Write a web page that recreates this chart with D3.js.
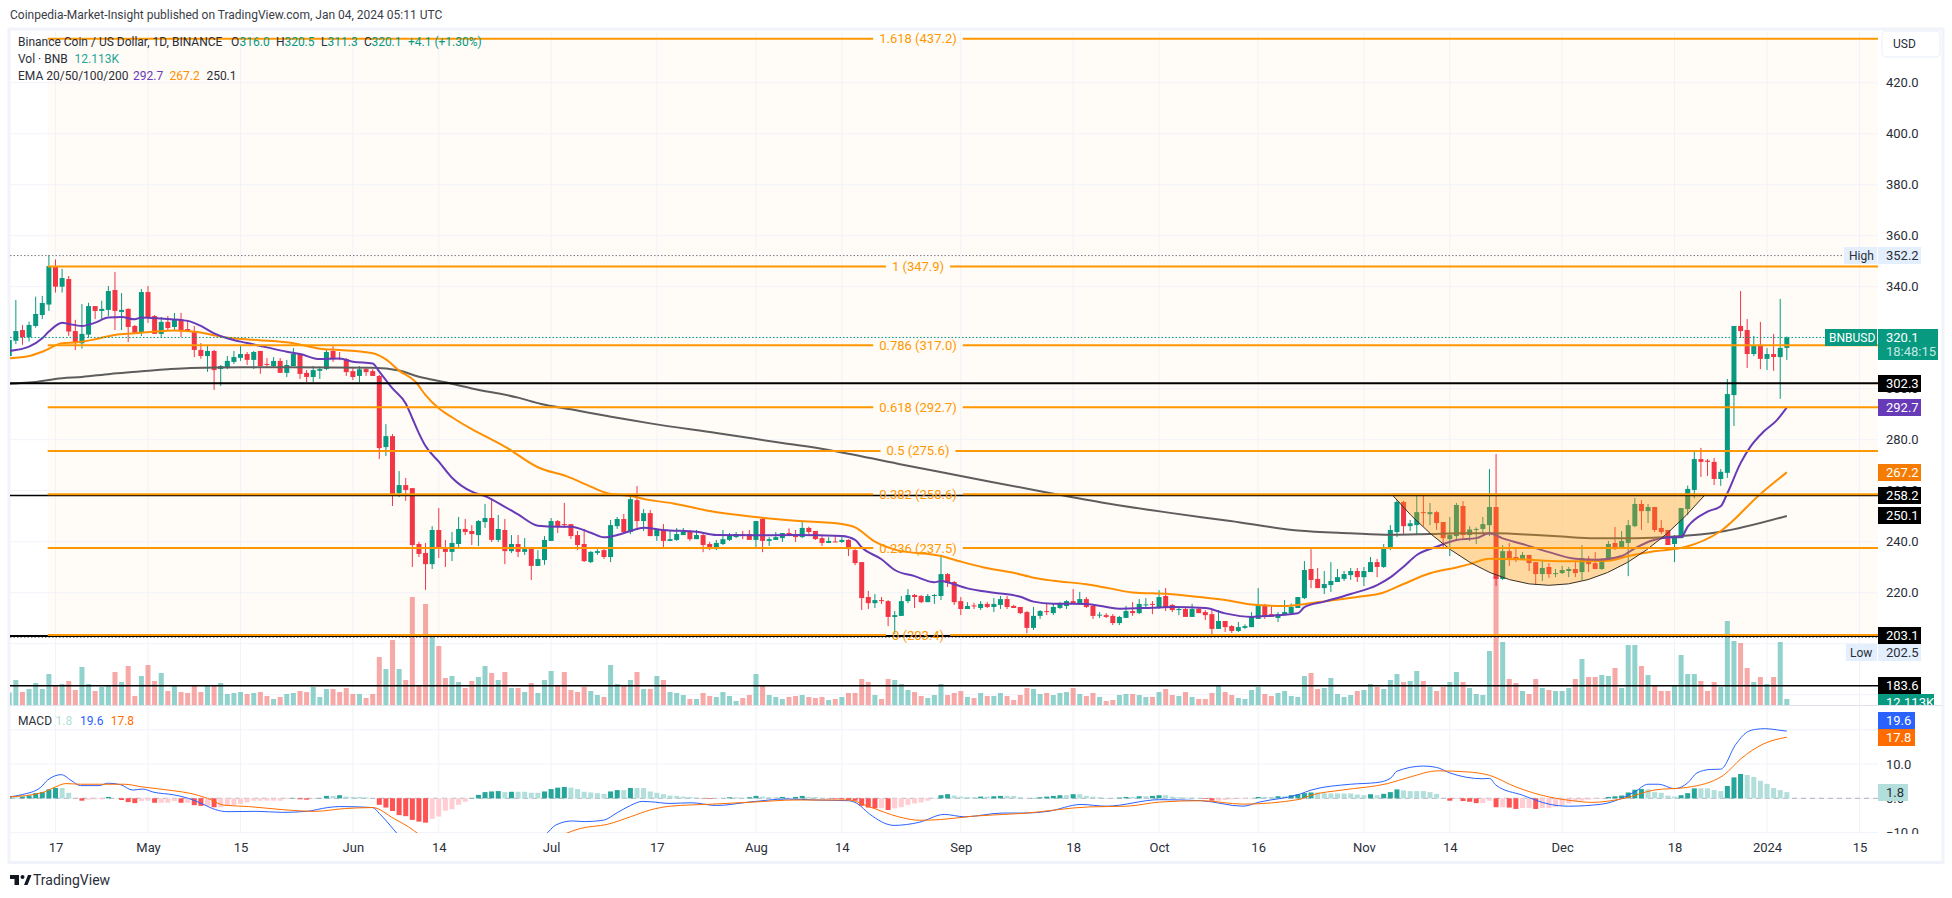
<!DOCTYPE html>
<html>
<head>
<meta charset="utf-8">
<script src="https://cdn.jsdelivr.net/npm/d3@7"></script>
<style>
    html, body { margin: 0; padding: 0; background: #fff; }
    svg { display: block; }
    text { font-family: "Roboto", sans-serif; }
</style>
</head>
<body>
<div id="chart"></div>
<script>
// Daily candles, day 0 = 17 Apr 2023, first candle is day -7
const firstDay = -7;
const open = [
    312.8,318.8,323.0,320.2,324.6,328.9,333.0,
    348.1,340.0,343.0,322.6,317.8,321.2,332.4,330.5,330.9,338.7,
    330.1,331.3,324.6,321.9,337.9,328.5,321.5,326.2,324.2,327.2,
    323.4,322.2,315.2,312.8,314.8,307.7,308.1,310.5,312.1,313.6,
    311.3,314.8,309.7,308.9,310.9,306.2,308.9,313.6,306.2,304.6,
    307.0,307.7,314.8,312.0,311.6,306.9,305.0,307.7,306.9,305.0,
    277.1,281.4,259.1,262.2,261.0,239.1,235.6,231.2,244.6,237.5,
    236.0,239.1,245.0,244.2,242.6,247.7,249.3,240.7,244.6,236.3,
    239.1,236.0,237.5,230.5,232.8,240.3,248.1,246.9,246.9,242.6,
    239.1,232.0,235.6,236.7,234.0,246.1,248.9,243.8,256.3,248.1,
    251.2,242.2,244.6,240.3,240.7,242.6,244.2,241.0,242.6,239.1,
    237.9,239.1,240.7,241.8,243.0,243.0,240.7,248.9,240.3,240.7,
    241.4,243.4,243.0,241.8,245.4,244.2,241.4,239.5,240.1,239.9,
    240.7,236.7,232.0,218.3,215.9,217.1,216.7,210.5,210.9,216.7,
    219.1,218.7,216.3,218.7,218.7,227.3,224.2,216.7,213.6,215.0,
    214.0,215.6,214.4,215.2,217.5,214.8,214.4,212.4,206.2,210.9,
    212.8,212.0,214.0,214.8,216.7,215.9,217.5,214.8,211.1,211.2,
    210.9,208.1,210.1,212.8,212.0,215.2,215.6,214.0,218.7,215.2,
    213.2,213.6,210.5,213.6,212.4,211.6,205.8,208.9,206.9,205.0,
    206.2,206.5,209.7,215.2,211.6,210.1,211.2,212.0,214.0,217.9,
    229.3,225.4,221.8,223.0,224.2,225.4,226.9,228.5,226.1,228.1,
    232.0,230.1,237.8,243.8,255.6,246.1,246.5,251.6,250.8,251.6,
    247.7,241.0,242.2,254.0,242.6,244.6,245.0,246.5,253.6,225.4,
    236.3,234.0,232.8,234.8,232.0,227.3,230.1,227.3,227.7,228.5,
    229.3,228.1,233.3,231.6,229.3,232.8,239.5,237.5,239.5,246.1,
    254.8,252.0,253.6,245.4,244.6,239.1,241.4,252.8,260.3,272.4,
    271.8,271.3,264.6,267.0,297.5,324.6,323.0,313.6,316.8,311.7,
    313.6,312.4,316.0
];
const high = [
    320.5,334.8,325.0,326.3,336.1,336.4,352.4,
    350.7,347.0,344.2,327.0,333.2,333.7,332.4,334.5,340.3,345.8,
    337.5,331.5,325.0,339.1,340.3,328.9,328.1,328.5,329.7,329.7,
    327.0,324.6,317.9,316.8,315.2,309.3,312.8,314.8,316.8,314.4,
    314.8,314.8,312.0,312.4,312.0,311.3,316.0,313.6,307.3,308.9,
    308.7,315.2,316.7,314.4,312.0,308.1,308.9,308.5,307.7,305.4,
    286.1,282.2,267.7,265.0,261.0,239.9,239.5,246.1,253.2,240.7,
    243.8,249.7,248.9,246.5,248.5,254.8,257.1,250.5,248.9,242.6,
    242.6,241.4,237.5,236.7,242.2,249.3,248.5,255.2,246.9,244.2,
    245.0,236.3,237.1,237.1,248.5,249.7,250.9,258.0,261.8,252.8,
    252.4,245.0,246.9,244.2,245.4,245.4,244.6,244.6,243.4,239.9,
    240.7,244.6,243.4,243.8,244.2,244.6,248.1,249.3,241.8,243.8,
    243.4,245.2,244.6,248.2,245.9,244.2,242.2,241.8,242.2,242.6,
    241.0,237.1,232.0,220.7,219.5,218.3,217.1,212.8,218.7,221.4,
    219.5,219.1,219.5,219.5,234.9,227.7,224.6,218.3,216.3,216.0,
    216.7,216.3,217.9,218.7,218.7,215.2,214.4,212.8,214.4,213.2,
    215.6,215.6,216.3,217.1,221.4,220.3,218.3,215.6,212.4,212.0,
    211.6,210.9,214.8,216.3,217.5,217.9,216.7,221.0,221.8,215.6,
    214.4,214.4,215.6,214.4,213.2,213.2,213.2,208.9,207.3,208.5,
    207.6,212.4,221.8,215.6,214.8,212.4,217.1,215.8,218.3,232.4,
    237.1,229.7,228.5,232.0,229.3,228.5,229.7,229.7,230.1,234.0,
    233.2,239.1,246.5,256.3,256.0,248.5,258.7,257.9,255.2,252.0,
    247.7,249.7,255.2,255.9,246.1,245.6,249.7,268.5,274.4,238.7,
    239.5,237.1,235.9,234.8,232.0,232.4,231.6,229.3,230.5,230.1,
    232.0,238.7,234.4,235.9,233.6,240.3,245.8,244.2,248.5,257.1,
    256.3,254.8,253.6,248.5,244.6,242.6,253.2,262.0,275.6,276.8,
    272.4,272.8,268.5,303.8,324.6,338.3,327.3,320.7,326.2,316.0,
    321.5,335.2,320.5
];
const low = [
    310.0,317.5,317.2,318.5,323.9,327.3,330.5,
    337.7,337.7,320.7,315.2,315.7,320.0,327.3,327.3,328.5,323.0,
    323.0,318.3,321.5,320.7,325.8,321.5,320.3,323.0,323.0,320.3,
    322.4,312.4,311.7,306.6,299.5,301.1,307.7,309.7,310.9,309.3,
    307.7,305.8,308.1,308.5,306.2,304.6,308.9,303.8,302.6,302.6,
    303.8,307.3,310.5,311.2,305.0,303.4,302.6,305.0,305.0,272.4,
    273.6,254.0,257.5,256.0,230.1,234.0,221.1,229.3,233.6,230.1,
    232.4,237.9,242.6,238.7,238.3,245.4,239.9,239.9,231.2,235.6,
    234.0,234.8,225.0,230.5,230.9,240.3,243.4,245.4,241.1,236.7,
    232.0,231.6,234.8,233.2,232.0,245.0,243.0,243.0,244.6,244.2,
    242.2,240.3,237.9,240.3,240.3,242.6,240.3,241.0,235.9,236.7,
    236.7,238.7,240.3,241.4,241.0,240.7,237.9,235.9,238.3,240.7,
    239.9,242.2,239.9,241.4,243.0,240.7,238.3,239.5,239.8,239.5,
    234.4,230.8,213.2,213.6,214.0,215.6,206.9,203.8,210.9,215.9,
    214.0,215.9,216.3,215.6,217.1,222.2,215.2,211.2,213.6,213.6,
    213.2,214.0,212.4,213.6,213.6,214.0,211.6,204.1,205.4,209.7,
    211.2,211.2,213.6,213.6,215.6,215.6,214.0,209.7,210.1,210.1,
    207.3,207.3,210.1,210.9,211.6,214.4,211.6,213.6,212.8,212.4,
    211.2,210.5,210.5,212.0,209.3,202.6,205.8,204.6,204.2,204.6,
    205.8,206.5,209.7,209.7,210.5,208.5,211.2,211.6,214.0,217.5,
    221.8,221.8,219.5,220.3,224.2,224.6,225.0,224.2,222.6,228.1,
    226.1,229.7,236.7,241.8,242.6,244.2,242.6,246.1,246.5,244.6,
    237.5,234.4,240.7,240.7,240.3,239.1,243.0,242.2,222.6,225.0,
    230.5,232.0,232.8,228.5,223.0,224.6,225.8,226.1,227.3,226.1,
    226.1,225.0,228.1,229.3,228.9,232.4,236.7,237.1,226.5,245.7,
    244.6,247.3,243.8,243.0,238.7,232.0,241.4,250.4,257.0,265.4,
    265.8,262.2,261.9,265.0,285.4,319.9,308.1,312.8,307.7,307.3,
    307.0,296.0,311.3
];
const close = [
    319.1,322.6,320.2,325.0,329.3,333.6,348.1,
    340.0,343.4,322.4,317.9,321.5,332.4,330.5,331.3,338.3,330.5,
    330.9,324.2,321.9,337.9,328.1,321.5,326.2,323.8,327.3,323.0,
    322.6,315.2,312.8,314.8,307.3,308.9,310.9,312.4,313.6,311.3,
    314.4,308.9,309.3,310.9,306.2,309.3,313.6,305.8,304.6,307.3,
    307.7,314.4,311.6,311.6,306.5,304.6,307.6,306.5,305.0,276.7,
    281.4,258.7,262.2,260.3,238.7,235.2,231.2,244.6,237.5,236.0,
    239.5,245.0,243.8,243.0,248.1,249.3,240.7,245.0,236.3,239.1,
    236.0,237.1,230.5,233.2,240.7,248.1,246.1,246.5,242.2,238.7,
    232.4,236.0,236.3,234.0,246.5,248.9,243.8,256.7,248.1,251.2,
    242.2,244.6,240.3,241.0,243.0,243.8,241.0,242.6,238.7,237.6,
    239.5,241.0,242.6,243.0,242.6,240.7,248.1,240.3,241.0,241.8,
    243.4,242.6,241.8,245.4,243.8,241.0,239.5,240.3,239.9,240.7,
    237.1,231.6,217.9,215.9,217.1,216.7,210.5,211.2,216.7,219.1,
    218.3,216.3,218.7,219.1,227.3,223.8,216.3,213.6,214.8,214.8,
    215.6,214.4,215.6,217.5,214.4,214.0,212.0,206.2,210.9,212.8,
    212.4,214.4,215.6,216.7,215.9,217.5,214.4,210.9,211.4,210.5,
    208.1,210.5,212.8,212.0,215.6,215.4,215.2,218.3,214.0,213.2,
    213.6,210.5,213.6,212.0,211.2,205.8,208.9,206.5,205.0,206.5,
    206.9,210.5,215.2,210.9,210.5,211.6,212.4,214.4,218.3,228.9,
    225.0,221.8,223.4,224.6,226.1,227.3,228.5,226.1,228.5,232.0,
    230.1,237.4,244.6,255.6,246.1,247.2,251.6,251.2,251.6,247.3,
    241.4,242.6,254.4,242.6,244.8,245.0,246.9,253.6,225.4,236.3,
    233.6,232.8,234.8,231.6,227.3,229.7,227.3,227.7,228.9,229.3,
    227.7,233.6,231.2,229.3,233.2,239.1,237.1,240.3,246.5,254.8,
    252.0,253.6,244.6,243.8,238.7,241.8,253.2,260.7,272.4,271.3,
    271.3,264.6,267.4,297.9,324.6,322.6,313.6,316.8,311.7,313.6,
    312.4,316.0,320.1
];
// Volume in thousands of BNB
const volume = [
    25,50,26,32,44,32,62,
    40,42,48,30,76,42,28,36,39,66,
    46,78,18,58,80,48,64,28,39,26,
    24,39,26,39,39,44,22,24,26,22,
    24,26,18,12,16,22,24,28,26,36,
    16,32,32,26,34,22,22,14,22,96,
    72,130,72,50,216,40,202,140,118,54,
    58,46,34,48,56,78,64,50,66,34,
    34,26,44,24,50,68,40,66,30,26,
    36,28,20,16,80,42,39,50,66,32,
    32,58,50,26,24,20,12,12,24,18,
    16,26,18,8,14,20,62,38,20,16,
    12,16,18,20,16,14,16,10,12,16,
    24,24,52,46,20,12,52,50,42,30,
    26,18,14,20,42,20,24,28,16,14,
    24,18,18,24,18,10,20,34,32,22,
    24,20,24,26,34,22,18,24,16,8,
    10,20,22,22,20,16,16,26,32,20,
    18,26,16,12,12,24,38,26,20,14,
    12,30,36,22,18,24,28,18,16,58,
    64,32,34,54,22,16,20,28,30,42,
    36,32,50,62,46,48,68,48,36,28,
    36,46,66,46,34,22,20,108,257,126,
    52,44,28,22,52,34,30,28,28,34,
    52,92,56,56,60,58,74,34,120,120,
    78,60,39,28,28,38,100,62,62,48,
    28,46,36,168,128,124,74,46,56,42,
    56,126,12.1
];
const macdHist = [
    .3,.3,.5,.8,1.5,1.8,2.6,
    3.0,3.0,1.6,0,-.7,-.4,-.3,-.3,.4,0,
    -.5,-1.1,-1.4,-.8,-.7,-1.3,-1.3,-1.3,-.8,-1.3,
    -1.3,-2.0,-2.2,-2.2,-2.6,-2.6,-2.0,-2.0,-1.6,-1.2,
    -.7,-.7,-.7,-.7,-.7,-.2,.1,-.3,-.4,-.2,
    .1,.7,.7,.9,.5,.4,.4,.3,0,-1.9,
    -2.7,-3.7,-4.9,-5.2,-6.3,-6.8,-7.1,-6.0,-5.3,-3.6,
    -3.2,-1.9,-1.0,.1,1.0,1.8,2.0,2.1,1.8,1.9,
    1.9,1.9,1.6,1.6,2.0,2.7,3.1,3.3,3.1,2.7,
    1.9,1.7,1.5,1.3,2.0,2.4,2.4,3.0,3.0,3.0,
    2.0,1.6,1.2,.8,.7,.5,.4,.2,-.1,-.2,
    -.1,0,.3,.3,.1,.3,.7,.5,.3,.3,
    .4,.1,.4,.7,.4,.4,.1,-.1,-.2,-.3,
    -.5,-.7,-2.2,-2.7,-2.9,-2.9,-3.4,-2.9,-2.6,-1.9,
    -1.5,-1.2,-.7,-.1,.9,1.2,.8,.5,.4,.3,
    .5,.5,.6,.7,.7,.7,.3,0,.1,.3,
    .5,.7,.9,.9,1.2,1.2,.7,.5,.3,.1,
    .1,.2,.4,.4,.6,.6,.7,.9,.9,.5,
    .3,.2,.2,0,-.2,-.7,-.7,-.5,-.3,-.2,
    -.2,-.1,.4,.4,.4,.6,.6,.9,1.2,1.5,
    1.7,1.7,1.5,1.4,1.4,1.4,1.4,1.1,.9,1.2,
    .9,1.3,1.8,2.6,2.3,2.1,2.1,2.1,1.8,1.3,
    0,-.7,-.2,-.8,-1.0,-1.4,-1.4,-.7,-2.6,-2.6,
    -2.7,-3.1,-2.8,-2.8,-3.1,-2.8,-2.8,-2.5,-2.0,-1.5,
    -.9,-.7,-.4,-.2,-.1,.4,.6,.8,1.7,2.5,
    2.7,2.6,1.8,1.6,.8,.5,.9,1.5,2.9,2.9,
    2.9,2.4,2.1,3.6,6.1,7.1,6.8,6.2,5.1,4.2,
    3.0,2.4,1.8
];

// Line series read at their turning points: [day, value]
const ema20 = [[-7,314.8],[-4,316.5],[-2,319.8],[-1,322.4],[1,325.9],[2,325.4],[4,324.6],[6,325.9],[8,327.9],[10,328.1],[12,327.2],[13,327.9],[16,327.5],[20,326.6],[22,324.6],[24,321.7],[26,319.8],[29,317.9],[32,316.2],[35,314.5],[37,313.6],[40,311.6],[43,311.8],[45,310.6],[48,309.9],[49,306.7],[51,300.1],[53,294.2],[54,288.4],[55,282.5],[56,277.5],[58,271.4],[60,265.1],[63,259.6],[65,257.9],[68,253.7],[70,250.7],[73,246.3],[76,245.9],[78,245.9],[81,243.5],[83,241.7],[85,242.6],[87,244.2],[89,245.5],[92,244.6],[97,243.9],[100,242.6],[106,242.5],[112,242.6],[119,242.2],[121,240.7],[122,237.8],[125,233.1],[127,228.9],[130,226.5],[133,224.1],[134,224.6],[136,223.3],[138,221.7],[142,220.0],[146,218.4],[148,216.5],[151,215.7],[156,215.6],[161,213.7],[166,214.1],[169,214.4],[174,214.0],[177,211.9],[181,210.5],[184,211.0],[188,211.9],[189,214.3],[192,216.5],[196,219.5],[200,223.0],[202,226.0],[204,230.2],[206,234.8],[209,238.0],[212,240.7],[215,241.4],[217,243.3],[219,241.3],[222,239.1],[226,235.9],[230,233.3],[233,232.9],[237,234.4],[239,237.4],[241.5,240.4],[244,241.6],[246,241.8],[247,245.9],[250,251.8],[252,253.9],[253,259.0],[255,270.8],[256.5,277.3],[258.5,283.2],[260.5,287.7],[262,292.7]];
const ema50 = [[-7,311.9],[-4,312.8],[-2,314.5],[1,317.8],[3.3,318.2],[6,319.4],[9,321.1],[12,321.7],[15,322.4],[18,322.8],[21.5,322.2],[25.5,320.2],[30.5,319.1],[36,317.8],[40,315.7],[43,315.2],[48,313.9],[50,311.5],[52,307.1],[54.5,302.7],[56,297.5],[58,292.3],[60,288.8],[63,284.1],[65,281.4],[68,277.3],[73,269.2],[77.5,265.5],[80.5,262.2],[83.5,259.0],[87,257.9],[90,256.3],[93.5,255.0],[99,252.0],[105.5,249.8],[112,248.2],[119,246.9],[121,245.6],[124,240.0],[127.3,236.7],[134,234.4],[137,232.2],[140.5,229.9],[145,227.8],[148,225.9],[151,224.7],[156,223.3],[159.5,221.7],[163,220.1],[168.5,219.5],[173.5,218.2],[177.5,216.9],[181,215.4],[186,214.8],[188.6,215.4],[193,216.9],[197,218.3],[201,220.1],[204,223.4],[208,227.6],[212,229.9],[214,231.2],[217,233.3],[221.5,233.1],[228,232.3],[235,232.5],[238,234.4],[241.5,236.1],[246.5,237.8],[252,244.2],[258,258.7],[262,267.2]];
const ema200 = [[-7,301.9],[-4,302.4],[1,304.1],[4,304.6],[8.3,305.8],[12.3,306.6],[17,307.6],[20.4,308.1],[28.5,308.4],[35,308.4],[48,308.2],[52,307.1],[55,304.7],[59,302.5],[63,300.1],[70,296.5],[73.5,294.0],[78,291.9],[83.5,289.3],[87,287.7],[90,286.4],[100,282.6],[110,278.7],[117,276.0],[127.6,270.5],[137,265.8],[150.2,259.2],[159,255.1],[168.4,251.4],[177.8,248.1],[188,244.4],[196,243.3],[202,242.7],[208,243.0],[213,243.3],[218,243.3],[224,242.6],[228,242.0],[233,241.4],[239,241.4],[245,242.0],[252,243.9],[262,250.1]];
const macdLine = [[-7,.4],[-5,1.1],[-2.3,3.1],[-1.2,5.3],[.9,6.9],[2.3,5.3],[3.8,3.7],[6.6,3.7],[7.9,4.4],[9.8,4.0],[11.7,2.4],[13.2,2.7],[14.8,1.8],[17.9,1.0],[20.1,0],[22.3,-1.7],[24.2,-3.3],[26.1,-3.9],[30.5,-3.8],[34.3,-4.1],[38,-3.8],[41.2,-2.7],[43,-2.4],[48,-2.7],[49,-4.4],[50.6,-7.8],[51.8,-10.5],[54,-14],[57,-20],[60,-22],[65,-21],[70,-15],[74.2,-10.5],[75.7,-7.8],[78.2,-6.6],[80,-6.8],[82.9,-6.4],[85,-4.2],[87,-2.1],[88.8,-.9],[90,-1.0],[93,-1.5],[96.2,-1.3],[100,-2.1],[105,-1.1],[110.7,-.2],[115,-.5],[120,-.7],[121.3,-1.5],[123.2,-4.6],[126.9,-7.9],[130.7,-7.0],[134.5,-4.7],[137.6,-5.4],[143.3,-4.3],[146.4,-4.3],[150.2,-3.8],[155.2,-1.8],[159,-2.3],[167.1,-.4],[173.4,-.7],[179.7,-2.3],[182.2,-1.1],[188.3,1.2],[190,2.4],[196,4.1],[200,4.6],[202,5.8],[203,7.9],[207,9.4],[209,9.0],[211,7.4],[216,5.7],[217,5.8],[218,3.8],[222,.9],[226,-1.7],[229,-2.3],[234,-1.7],[239,1.9],[241,4.1],[242.6,4.1],[245,2.8],[247,4.5],[248.4,7.4],[250.4,8.4],[252,8.5],[254.3,15.8],[255.9,19.2],[257.3,20.1],[258.8,20.3],[260.7,19.9],[262,19.6]];
const macdSignal = [[-7,.4],[-2.1,1.6],[-.25,3.1],[1.6,4.3],[3.8,4.1],[7.3,4.1],[10.4,4.1],[13.2,3.3],[17.9,2.2],[20.5,1.4],[23,0],[25.5,-2.0],[29.2,-2.4],[34.3,-3.3],[39.3,-3.8],[43.7,-3.0],[48,-2.7],[51.2,-5.9],[53.4,-8.3],[55,-10.5],[60,-16],[65,-19],[70,-17],[76.9,-10.5],[79.4,-8.8],[83.5,-7.6],[87,-5.4],[90,-3.4],[93,-2.3],[99.4,-1.7],[105.6,-1.1],[111.9,-.5],[120,-.5],[123.2,-2.5],[127.6,-5.4],[130.7,-6.4],[133.9,-6.2],[138.9,-5.2],[146.4,-4.4],[156.5,-2.5],[162.1,-2.3],[167.1,-1.1],[173.4,-.7],[179.7,-1.7],[188.3,-.3],[190,.9],[194.7,2.4],[201.6,4.3],[204.8,6.1],[209.2,8.0],[213.6,7.7],[217,6.7],[221,3.3],[226,.4],[230,-.8],[232.4,-1.2],[237.4,0],[241.9,2.4],[247,3.2],[252.4,6.7],[255.1,11.6],[258.4,15.8],[262,17.8]];

// Fibonacci retracement and horizontal levels
const fibRatios = ["1.618","1","0.786","0.618","0.5","0.382","0.236","0"];
const fibPrices = [437.2,347.9,317.0,292.7,275.6,258.6,237.5,203.4];
const levelPrices = [302.3,258.2,203.1,183.6];
const levelWidths = [2,1.5,2,1.5];

// Cup drawing: start, control and end of the curve
const cupDays = [202.2,226,249.7];
const cupPrices = [258.6,187.2,258.6];

// Axis ticks
const timeTickDays = [0,14,28,45,58,75,91,106,119,137,154,167,182,198,211,228,245,259,273];
const timeTickLabels = ["17","May","15","Jun","14","Jul","17","Aug","14","Sep","18","Oct","16","Nov","14","Dec","18","2024","15"];
const priceTicks = [420,400,380,360,340,320,300,280,260,240,220,200,180];
const macdTicks = [20,10,0,-10];

// Layout
const width = 1952, height = 898;
const paneLeft = 10, paneRight = 1878, paneTop = 32, priceBottom = 705, macdBottom = 833;
const fibLeft = 47.7, fibLabelX = 918;
const axisRight = 1942;

const green = "#089981", red = "#f23645";

const days = open.map((d, i) => firstDay + i);

// Scales
const x = d3.scaleLinear().domain([0, 259]).range([55.5, 1767]);
const y = d3.scaleLinear().domain([420, 220]).range([82.7, 592.7]);
const yVol = d3.scaleLinear().domain([0, 216]).range([priceBottom, 597]);
const yMacd = d3.scaleLinear().domain([10, -10]).range([764, 832.6]);

const svg = d3.select("#chart").append("svg")
    .attr("width", width)
    .attr("height", height);

svg.append("defs").append("clipPath").attr("id", "clip-price")
    .append("rect").attr("x", paneLeft).attr("y", paneTop)
    .attr("width", paneRight - paneLeft).attr("height", priceBottom - paneTop);
svg.select("defs").append("clipPath").attr("id", "clip-macd")
    .append("rect").attr("x", paneLeft).attr("y", priceBottom)
    .attr("width", paneRight - paneLeft).attr("height", macdBottom - priceBottom);
svg.select("defs").append("clipPath").attr("id", "clip-axis-price")
    .append("rect").attr("x", paneRight).attr("y", paneTop)
    .attr("width", axisRight - paneRight).attr("height", priceBottom - paneTop);
svg.select("defs").append("clipPath").attr("id", "clip-axis-macd")
    .append("rect").attr("x", paneRight).attr("y", priceBottom)
    .attr("width", axisRight - paneRight).attr("height", macdBottom - priceBottom + 1);

// Frame around the chart
svg.append("rect")
    .attr("x", paneLeft - 1).attr("y", 29)
    .attr("width", axisRight - paneLeft + 2).attr("height", 862.5 - 29)
    .attr("fill", "none")
    .attr("stroke", "#f0f3fa")
    .attr("stroke-width", 3);

// Fibonacci background
svg.append("rect")
    .attr("x", fibLeft).attr("y", y(fibPrices[0]))
    .attr("width", paneRight - fibLeft).attr("height", y(fibPrices[7]) - y(fibPrices[0]))
    .attr("fill", "#fffbf6");

// Grid
const grid = svg.append("g").attr("stroke", "#f0f3fa").attr("stroke-width", 1);
grid.selectAll(".grid-x").data(timeTickDays.filter(d => x(d) < paneRight)).enter().append("line")
    .attr("x1", d => x(d)).attr("x2", d => x(d))
    .attr("y1", paneTop).attr("y2", macdBottom);
grid.selectAll(".grid-y").data(priceTicks).enter().append("line")
    .attr("x1", paneLeft).attr("x2", paneRight)
    .attr("y1", d => y(d)).attr("y2", d => y(d));
grid.selectAll(".grid-m").data(macdTicks).enter().append("line")
    .attr("x1", paneLeft).attr("x2", paneRight)
    .attr("y1", d => yMacd(d)).attr("y2", d => yMacd(d));

// Price pane
const pricePane = svg.append("g").attr("clip-path", "url(#clip-price)");

// Volume bars
pricePane.selectAll(".vol").data(days).enter().append("rect")
    .attr("x", d => x(d) - 2.5)
    .attr("width", 5)
    .attr("y", (d, i) => yVol(volume[i]))
    .attr("height", (d, i) => priceBottom - yVol(volume[i]))
    .attr("fill", (d, i) => close[i] >= open[i] ? "rgba(38,166,154,0.5)" : "rgba(239,83,80,0.5)");

// Candles
const candleColor = i => close[i] >= open[i] ? green : red;
pricePane.selectAll(".wick").data(days).enter().append("line")
    .attr("x1", d => x(d)).attr("x2", d => x(d))
    .attr("y1", (d, i) => y(high[i]))
    .attr("y2", (d, i) => y(low[i]))
    .attr("stroke", (d, i) => candleColor(i))
    .attr("stroke-width", 1);
pricePane.selectAll(".body").data(days).enter().append("rect")
    .attr("x", d => x(d) - 2.5)
    .attr("width", 5)
    .attr("y", (d, i) => y(Math.max(open[i], close[i])))
    .attr("height", (d, i) => Math.max(1, Math.abs(y(open[i]) - y(close[i]))))
    .attr("fill", (d, i) => candleColor(i));

// EMA lines
const priceLine = d3.line().x(d => x(d[0])).y(d => y(d[1])).curve(d3.curveMonotoneX);
pricePane.append("path").attr("d", priceLine(ema200))
    .attr("fill", "none").attr("stroke", "#5d5d5d").attr("stroke-width", 2);
pricePane.append("path").attr("d", priceLine(ema50))
    .attr("fill", "none").attr("stroke", "#ff8f00").attr("stroke-width", 2);
pricePane.append("path").attr("d", priceLine(ema20))
    .attr("fill", "none").attr("stroke", "#673ab7").attr("stroke-width", 2);

// Cup drawing over the candles
const cupPath = d3.path();
cupPath.moveTo(x(cupDays[0]), y(cupPrices[0]));
cupPath.quadraticCurveTo(x(cupDays[1]), y(cupPrices[1]), x(cupDays[2]), y(cupPrices[2]));
cupPath.closePath();
pricePane.append("path").attr("d", cupPath.toString())
    .attr("fill", "rgba(255,152,0,0.35)")
    .attr("stroke", "#3a3226")
    .attr("stroke-width", 1);

// Dotted high, low and last price lines
const dotted = [[352.2, "#787b86", paneRight], [202.5, "#787b86", paneRight], [320.1, green, paneRight]];
dotted.forEach(d => {
    pricePane.append("line")
        .attr("x1", paneLeft).attr("x2", d[2])
        .attr("y1", y(d[0])).attr("y2", y(d[0]))
        .attr("stroke", d[1])
        .attr("stroke-dasharray", "1.5 2");
});

// Black horizontal levels
levelPrices.forEach((p, i) => {
    pricePane.append("line")
        .attr("x1", paneLeft).attr("x2", paneRight)
        .attr("y1", y(p) + 0.3).attr("y2", y(p) + 0.3)
        .attr("stroke", "#000")
        .attr("stroke-width", levelWidths[i]);
});

// Fibonacci lines with their centred labels
fibPrices.forEach((p, i) => {
    const label = pricePane.append("text")
        .attr("x", fibLabelX).attr("y", y(p))
        .attr("dy", "0.35em")
        .attr("text-anchor", "middle")
        .attr("fill", "#ff9800")
        .attr("font-size", 13)
        .text(`${fibRatios[i]} (${p.toFixed(1)})`);
    const half = label.node().getComputedTextLength() / 2 + 6;
    [[fibLeft, fibLabelX - half], [fibLabelX + half, paneRight]].forEach(seg => {
        pricePane.append("line")
            .attr("x1", seg[0]).attr("x2", seg[1])
            .attr("y1", y(p)).attr("y2", y(p))
            .attr("stroke", "#ff9800")
            .attr("stroke-width", 2);
    });
});

// MACD pane
const macdPane = svg.append("g").attr("clip-path", "url(#clip-macd)");
macdPane.append("line")
    .attr("x1", paneLeft).attr("x2", paneRight)
    .attr("y1", yMacd(0)).attr("y2", yMacd(0))
    .attr("stroke", "#b2b5be")
    .attr("stroke-dasharray", "5 4");
const histColor = i => {
    const prev = i > 0 ? macdHist[i - 1] : 0;
    if (macdHist[i] >= 0) return macdHist[i] > prev ? "#26a69a" : "#b2dfdb";
    return macdHist[i] < prev ? "#ff5252" : "#ffcdd2";
};
macdPane.selectAll(".hist").data(days).enter().append("rect")
    .attr("x", d => x(d) - 2.5)
    .attr("width", 5)
    .attr("y", (d, i) => Math.min(yMacd(0), yMacd(macdHist[i])))
    .attr("height", (d, i) => Math.abs(yMacd(macdHist[i]) - yMacd(0)))
    .attr("fill", (d, i) => histColor(i));
const macdPath = d3.line().x(d => x(d[0])).y(d => yMacd(d[1])).curve(d3.curveMonotoneX);
macdPane.append("path").attr("d", macdPath(macdLine))
    .attr("fill", "none").attr("stroke", "#2962ff").attr("stroke-width", 1);
macdPane.append("path").attr("d", macdPath(macdSignal))
    .attr("fill", "none").attr("stroke", "#ff6d00").attr("stroke-width", 1);

// Pane separator
svg.append("line")
    .attr("x1", paneLeft).attr("x2", axisRight)
    .attr("y1", priceBottom + 0.5).attr("y2", priceBottom + 0.5)
    .attr("stroke", "#e0e3eb");

// Axes
const axisText = "#2a2e39";
const styleAxis = g => {
    g.select(".domain").remove();
    g.selectAll("text").attr("fill", axisText).attr("font-size", 13).attr("font-family", "Roboto");
};
svg.append("g")
    .attr("clip-path", "url(#clip-axis-price)")
    .append("g")
    .attr("transform", `translate(${paneRight},0)`)
    .call(d3.axisRight(y).tickValues(priceTicks).tickFormat(d3.format(".1f")).tickSize(0).tickPadding(8))
    .call(styleAxis);
svg.append("g")
    .attr("clip-path", "url(#clip-axis-macd)")
    .append("g")
    .attr("transform", `translate(${paneRight},0)`)
    .call(d3.axisRight(yMacd).tickValues(macdTicks)
        .tickFormat(d => d3.format(".1f")(d).replace("-", "\u2212")).tickSize(0).tickPadding(8))
    .call(styleAxis);
svg.append("g")
    .attr("transform", `translate(0,${macdBottom})`)
    .call(d3.axisBottom(x).tickValues(timeTickDays).tickFormat((d, i) => timeTickLabels[i]).tickSize(0).tickPadding(10))
    .call(styleAxis);

// Price tags on the right axis
const tag = (parent, x0, x1, y0, y1, bg, fg, label, textX, size) => {
    parent.append("rect")
        .attr("x", x0).attr("y", y0)
        .attr("width", x1 - x0).attr("height", y1 - y0)
        .attr("fill", bg);
    parent.append("text")
        .attr("x", textX === undefined ? x0 + 8 : textX).attr("y", (y0 + y1) / 2)
        .attr("dy", "0.35em")
        .attr("fill", fg)
        .attr("font-size", size || 13)
        .text(label);
};
const tags = svg.append("g").attr("clip-path", "url(#clip-tags)");
svg.select("defs").append("clipPath").attr("id", "clip-tags")
    .append("rect").attr("x", paneLeft).attr("y", paneTop).attr("width", axisRight - paneLeft).attr("height", priceBottom - paneTop);

tag(tags, 1844, 1877, 247, 264, "#e3effd", axisText, "High", 1849, 12);
tag(tags, 1878, 1921, 247, 264, "#e3effd", axisText, "352.2");
tag(tags, 1825, 1877, 329, 346, green, "#fff", "BNBUSD", 1829, 12);
tags.append("rect").attr("x", 1878).attr("y", 329).attr("width", 60).attr("height", 31).attr("fill", green);
tags.append("text").attr("x", 1886).attr("y", 342).attr("fill", "#fff").attr("font-size", 13).text("320.1");
tags.append("text").attr("x", 1886).attr("y", 356).attr("fill", "#c5e8e1").attr("font-size", 13).text("18:48:15");
tag(tags, 1878, 1921, 375, 392, "#000", "#fff", "302.3");
tag(tags, 1878, 1921, 399, 416, "#673ab7", "#fff", "292.7");
tag(tags, 1878, 1921, 464, 481, "#f57c00", "#fff", "267.2");
tag(tags, 1878, 1921, 487, 504, "#000", "#fff", "258.2");
tag(tags, 1878, 1921, 507, 524, "#000", "#fff", "250.1");
tag(tags, 1878, 1921, 627, 644, "#000", "#fff", "203.1");
tag(tags, 1846, 1877, 644, 661, "#e3effd", axisText, "Low", 1850, 12);
tag(tags, 1878, 1921, 644, 661, "#e3effd", axisText, "202.5");
tag(tags, 1878, 1921, 677, 694, "#000", "#fff", "183.6");
tag(tags, 1878, 1934, 694, 711, green, "#fff", "12.113K");

tag(svg, 1878, 1915, 712, 729, "#2962ff", "#fff", "19.6");
tag(svg, 1878, 1915, 729, 746, "#ff6d00", "#fff", "17.8");
tag(svg, 1878, 1908, 784, 801, "#b2dfdb", axisText, "1.8");

// USD button
svg.append("rect")
    .attr("x", 1882).attr("y", 31).attr("width", 58).attr("height", 26).attr("rx", 4)
    .attr("fill", "#fff").attr("stroke", "#f0f3fa").attr("stroke-width", 1.5);
svg.append("text").attr("x", 1893).attr("y", 44).attr("dy", "0.35em")
    .attr("fill", axisText).attr("font-size", 12).text("USD");

// Legend texts
const legend = (x0, y0, fill, label) => {
    svg.append("text").attr("x", x0).attr("y", y0).attr("dy", "0.35em")
        .attr("fill", fill).attr("font-size", 12).text(label);
};
legend(10, 15, "#3a3d48", "Coinpedia-Market-Insight published on TradingView.com, Jan 04, 2024 05:11 UTC");
legend(18, 41.7, "#2a2e39", "Binance Coin / US Dollar, 1D, BINANCE");
legend(231, 41.7, "#2a2e39", "O");
legend(239.6, 41.7, green, "316.0");
legend(276, 41.7, "#2a2e39", "H");
legend(284.4, 41.7, green, "320.5");
legend(321, 41.7, "#2a2e39", "L");
legend(327.5, 41.7, green, "311.3");
legend(364, 41.7, "#2a2e39", "C");
legend(371.4, 41.7, green, "320.1");
legend(408, 41.7, green, "+4.1 (+1.30%)");
legend(18, 58.7, "#2a2e39", "Vol \u00b7 BNB");
legend(74.6, 58.7, "#26a69a", "12.113K");
legend(18, 76, "#2a2e39", "EMA 20/50/100/200");
legend(133, 76, "#673ab7", "292.7");
legend(169.5, 76, "#ff8f00", "267.2");
legend(206.4, 76, "#2a2e39", "250.1");
legend(18, 720.7, "#2a2e39", "MACD");
legend(55.5, 720.7, "#b2dfdb", "1.8");
legend(80, 720.7, "#2962ff", "19.6");
legend(110.7, 720.7, "#ff6d00", "17.8");

// TradingView logo and name
svg.append("path")
    .attr("d", "M10 875h9v10h-4.5v-6H10zM24 885l4-10h3.5l-4 10z")
    .attr("fill", "#131722");
svg.append("circle").attr("cx", 22.5).attr("cy", 877).attr("r", 2).attr("fill", "#131722");
svg.append("text").attr("x", 33).attr("y", 880).attr("dy", "0.35em")
    .attr("fill", "#2a2e39").attr("font-size", 14).text("TradingView");
</script>
</body>
</html>
